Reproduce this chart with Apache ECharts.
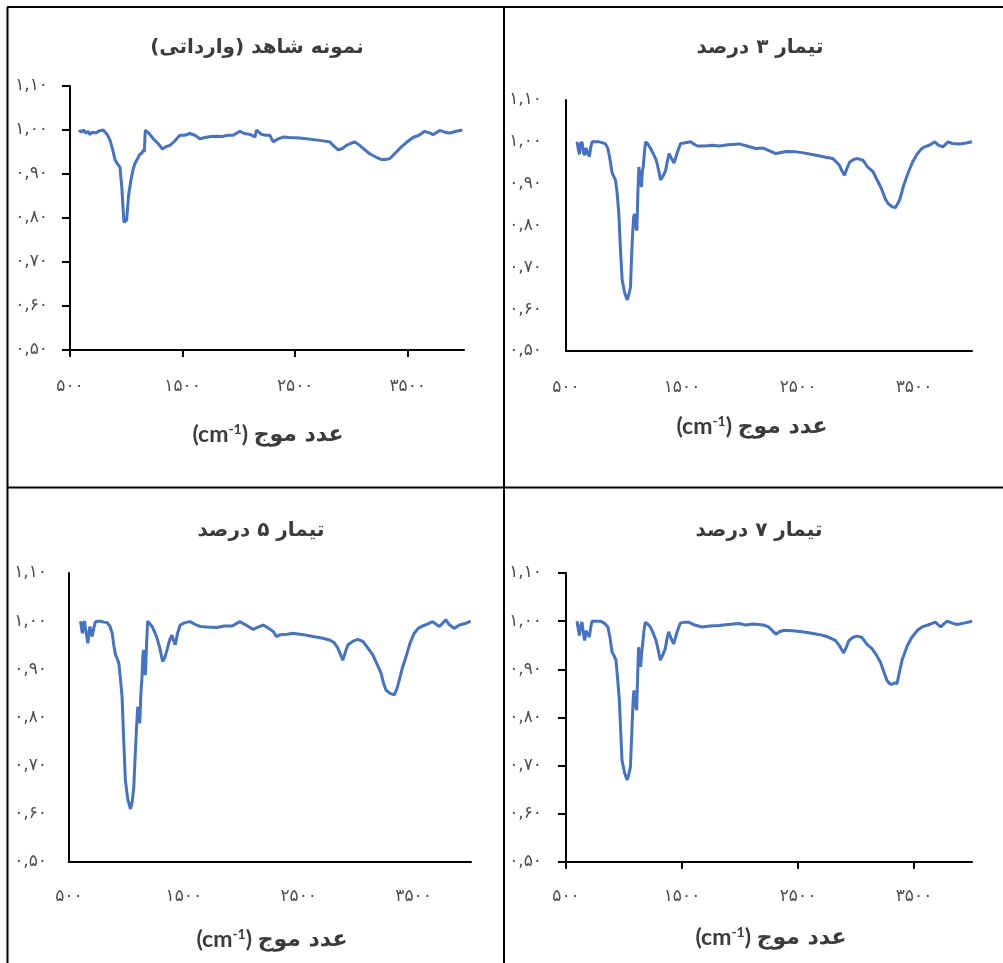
<!DOCTYPE html>
<html><head><meta charset="utf-8">
<script src="https://cdn.jsdelivr.net/npm/echarts@6/dist/echarts.min.js"></script>
<style>html,body{margin:0;padding:0;background:#fff}#c{width:1003px;height:963px}</style>
</head><body><div id="c"></div>
<script>
// ---- text ----
const panelTitles = ['نمونه شاهد (وارداتی)', 'تیمار ۳ درصد', 'تیمار ۵ درصد', 'تیمار ۷ درصد'];
const axisNameFa = 'عدد موج';
const axisUnit = 'cm';
const axisUnitSup = '-1';
// ---- ticks ----
const xTickValues = [500, 1500, 2500, 3500];
const xTickLabels = ['۵۰۰', '۱۵۰۰', '۲۵۰۰', '۳۵۰۰'];
const yTickValues = [0.5, 0.6, 0.7, 0.8, 0.9, 1.0, 1.1];
const yTickLabels = ['۰,۵۰', '۰,۶۰', '۰,۷۰', '۰,۸۰', '۰,۹۰', '۱,۰۰', '۱,۱۰'];
// ---- data: control ----
const wn1 = [580,600,620,640,660,677,700,730,760,796,830,855,880,900,925,944,960,979,1003,1020,1041,1060,1077,1100,1121,1140,1151,1160,1169,1200,1240,1280,1322,1350,1388,1430,1476,1520,1565,1610,1654,1700,1750,1802,1850,1900,1950,2009,2050,2100,2142,2157,2200,2240,2275,2305,2350,2393,2450,2541,2600,2700,2808,2850,2882,2920,2956,3000,3030,3074,3120,3163,3220,3266,3300,3340,3380,3429,3490,3547,3600,3651,3700,3725,3760,3784,3830,3873,3930,3985];
const tr1 = [1.000,0.995,1.000,0.993,0.997,0.990,0.995,0.993,0.998,1.000,0.990,0.977,0.955,0.932,0.922,0.915,0.870,0.790,0.795,0.850,0.886,0.910,0.924,0.935,0.945,0.948,0.955,0.950,1.000,0.993,0.980,0.970,0.957,0.962,0.965,0.975,0.988,0.988,0.992,0.988,0.980,0.983,0.985,0.986,0.985,0.988,0.988,0.997,0.992,0.990,0.984,1.000,0.990,0.988,0.988,0.973,0.980,0.984,0.983,0.982,0.980,0.977,0.973,0.962,0.955,0.958,0.965,0.970,0.973,0.965,0.955,0.946,0.938,0.933,0.933,0.935,0.945,0.958,0.972,0.983,0.988,0.997,0.993,0.989,0.995,0.999,0.995,0.993,0.997,1.000];
// ---- data: 3% ----
const wn2 = [595,605,615,625,638,650,661,672,682,692,702,712,725,750,782,810,840,860,875,898,926,940,955,970,984,1005,1027,1042,1056,1066,1076,1083,1090,1100,1111,1120,1128,1140,1151,1158,1166,1176,1186,1205,1229,1255,1278,1300,1316,1340,1359,1375,1388,1410,1431,1460,1488,1530,1575,1600,1633,1700,1760,1820,1900,1993,2060,2137,2200,2260,2310,2400,2483,2560,2656,2740,2800,2830,2857,2880,2901,2920,2944,2980,3016,3059,3100,3146,3180,3218,3250,3275,3310,3341,3376,3410,3448,3485,3520,3560,3592,3640,3679,3710,3750,3794,3830,3895,3950,4000];
const tr2 = [1.000,0.985,0.970,0.995,1.000,0.975,0.968,0.985,0.988,0.970,0.965,0.985,1.000,1.000,1.000,0.998,0.995,0.985,0.965,0.925,0.909,0.880,0.830,0.740,0.670,0.640,0.622,0.635,0.653,0.730,0.788,0.820,0.828,0.800,0.788,0.880,0.940,0.910,0.892,0.930,0.940,0.975,1.000,0.995,0.984,0.970,0.956,0.930,0.909,0.920,0.932,0.955,0.972,0.960,0.949,0.975,0.996,0.998,1.000,0.995,0.990,0.990,0.992,0.990,0.993,0.995,0.990,0.984,0.985,0.978,0.972,0.977,0.976,0.973,0.968,0.963,0.960,0.952,0.944,0.930,0.920,0.935,0.951,0.958,0.960,0.956,0.940,0.929,0.910,0.889,0.865,0.853,0.845,0.843,0.861,0.895,0.925,0.950,0.968,0.982,0.988,0.993,1.000,0.992,0.988,1.000,0.996,0.995,0.997,1.000];
// ---- data: 5% ----
const wn3 = [601,609,616,626,636,645,653,660,665,672,682,692,702,715,731,755,775,800,832,855,876,890,905,920,934,948,962,975,991,1012,1035,1050,1064,1076,1087,1098,1108,1116,1126,1136,1143,1150,1158,1165,1175,1185,1200,1223,1245,1266,1290,1315,1335,1353,1375,1396,1410,1425,1445,1468,1510,1555,1600,1642,1700,1786,1850,1920,1988,2040,2104,2150,2191,2240,2280,2306,2340,2400,2451,2540,2624,2700,2769,2810,2841,2865,2884,2905,2928,2970,3014,3058,3100,3145,3180,3217,3240,3260,3295,3332,3355,3376,3405,3434,3470,3506,3540,3578,3620,3665,3700,3723,3750,3780,3810,3853,3900,3950,3997];
const tr3 = [1.000,0.985,0.975,0.995,1.000,0.980,0.970,0.960,0.954,0.975,0.989,0.975,0.968,0.985,0.999,1.000,1.000,0.998,0.997,0.990,0.975,0.950,0.930,0.922,0.912,0.880,0.843,0.760,0.669,0.630,0.610,0.625,0.655,0.720,0.774,0.822,0.800,0.788,0.850,0.885,0.930,0.940,0.900,0.888,0.950,1.000,0.997,0.989,0.978,0.965,0.945,0.916,0.925,0.940,0.960,0.971,0.960,0.951,0.975,0.992,0.997,0.999,0.993,0.989,0.988,0.987,0.990,0.990,0.999,0.992,0.983,0.988,0.992,0.985,0.978,0.968,0.972,0.973,0.975,0.972,0.968,0.965,0.961,0.955,0.944,0.930,0.919,0.935,0.951,0.958,0.962,0.958,0.945,0.930,0.912,0.892,0.870,0.857,0.850,0.847,0.860,0.878,0.905,0.926,0.955,0.975,0.985,0.990,0.994,0.999,0.993,0.989,0.995,1.003,0.993,0.985,0.992,0.995,1.000];
// ---- data: 7% ----
const wn4 = [595,605,615,625,638,650,661,672,681,692,701,712,724,760,796,830,862,880,897,915,931,945,960,972,983,1005,1026,1040,1055,1066,1075,1081,1086,1097,1109,1118,1126,1135,1144,1152,1161,1172,1184,1205,1227,1252,1276,1295,1313,1335,1356,1372,1385,1405,1428,1458,1486,1520,1557,1610,1672,1740,1816,1900,1989,2050,2110,2161,2200,2247,2280,2310,2340,2376,2450,2534,2620,2707,2770,2822,2860,2894,2915,2937,2970,3009,3052,3095,3138,3175,3210,3240,3267,3290,3310,3335,3353,3375,3397,3440,3483,3525,3569,3620,3684,3710,3730,3760,3787,3830,3871,3930,4000];
const tr4 = [1.000,0.985,0.970,0.990,0.998,0.975,0.960,0.980,0.984,0.972,0.967,0.985,1.000,1.000,1.000,0.996,0.988,0.965,0.936,0.928,0.919,0.880,0.836,0.770,0.711,0.685,0.670,0.680,0.697,0.760,0.815,0.845,0.856,0.830,0.815,0.890,0.946,0.925,0.905,0.935,0.953,0.980,0.998,0.994,0.988,0.975,0.960,0.940,0.919,0.930,0.943,0.965,0.978,0.965,0.953,0.978,0.996,0.998,0.998,0.992,0.988,0.990,0.991,0.993,0.995,0.992,0.994,0.993,0.992,0.988,0.980,0.973,0.978,0.981,0.980,0.978,0.975,0.971,0.966,0.960,0.948,0.934,0.945,0.959,0.966,0.969,0.966,0.952,0.943,0.930,0.915,0.895,0.877,0.870,0.869,0.872,0.870,0.895,0.919,0.948,0.967,0.980,0.988,0.992,0.998,0.992,0.988,0.995,1.000,0.996,0.993,0.996,1.000];

const wns = [wn1, wn2, wn3, wn4];
const trs = [tr1, tr2, tr3, tr4];

// ---- layout (pixels) ----
const grids = [
  {left: 70, top: 86, width: 394, height: 264},
  {left: 566, top: 100, width: 406, height: 251},
  {left: 69, top: 573, width: 402, height: 289},
  {left: 566, top: 573, width: 406, height: 289}
];
const showTicks = [true, false, false, true];
const yLabelMargin = [22, 24, 22, 24];
const xLabelMargin = [28, 28, 26, 26];
const titlePos = [[257, 48], [760, 48], [261, 531], [759, 531]];
const namePos = [[268, 435], [752, 427], [272, 940], [771, 938]];

const LABEL_COLOR = '#4f4f4f';
const TITLE_COLOR = '#3b3b3b';
const LINE_COLOR = '#4472C4';
const FA_FONT = "'DejaVu Sans', sans-serif";

function xLabel(v) {
  const i = xTickValues.indexOf(Math.round(v));
  return i >= 0 ? xTickLabels[i] : '';
}
function yLabel(v) {
  for (let i = 0; i < yTickValues.length; i++) {
    if (Math.abs(yTickValues[i] - v) < 1e-6) return yTickLabels[i];
  }
  return '';
}

const option = {
  backgroundColor: '#ffffff',
  animation: false,
  grid: grids.map(g => Object.assign({containLabel: false}, g)),
  xAxis: grids.map((g, i) => ({
    type: 'value', gridIndex: i, min: 500, max: 4000,
    axisLine: {show: true, onZero: false, lineStyle: {color: '#000', width: 2}},
    axisTick: {show: showTicks[i], customValues: xTickValues, length: 7, lineStyle: {color: '#000', width: 2}},
    axisLabel: {customValues: xTickValues, formatter: xLabel, margin: xLabelMargin[i],
      color: LABEL_COLOR, fontSize: 17, fontFamily: FA_FONT},
    splitLine: {show: false}
  })),
  yAxis: grids.map((g, i) => ({
    type: 'value', gridIndex: i, min: 0.5, max: 1.1, interval: 0.1,
    axisLine: {show: true, lineStyle: {color: '#000', width: 2}},
    axisTick: {show: showTicks[i], length: 8, lineStyle: {color: '#000', width: 2}},
    axisLabel: {formatter: yLabel, margin: yLabelMargin[i], color: LABEL_COLOR, fontSize: 17, fontFamily: FA_FONT},
    splitLine: {show: false}
  })),
  series: grids.map((g, i) => ({
    type: 'line', xAxisIndex: i, yAxisIndex: i,
    data: wns[i].map((w, k) => [w, trs[i][k]]),
    showSymbol: false, smooth: false,
    lineStyle: {color: LINE_COLOR, width: 3},
    itemStyle: {color: LINE_COLOR}
  })),
  graphic: []
};

// panel frame lines
const frame = [
  [7.5, 7, 7.5, 963], [504, 7, 504, 963],
  [7, 7, 1003, 7], [7, 487.5, 1003, 487.5]
];
frame.forEach(l => option.graphic.push({
  type: 'line', shape: {x1: l[0], y1: l[1], x2: l[2], y2: l[3]},
  style: {stroke: '#000', lineWidth: 2}, silent: true
}));

panelTitles.forEach((t, i) => {
  option.graphic.push({
    type: 'text', x: titlePos[i][0], y: titlePos[i][1],
    style: {text: '\u202B' + t + '\u202C', textAlign: 'center', textVerticalAlign: 'middle',
      fill: TITLE_COLOR, font: "bold 20px " + FA_FONT}
  });
  option.graphic.push({
    type: 'text', x: namePos[i][0], y: namePos[i][1],
    style: {
      text: '{u|(' + axisUnit + '}{s|' + axisUnitSup + '}{u|) }{fa|' + axisNameFa + '}',
      textAlign: 'center', textVerticalAlign: 'middle',
      rich: {
        u: {fontFamily: "Lato, 'Open Sans', sans-serif", fontWeight: 'bold', fontSize: 23, fill: TITLE_COLOR, color: TITLE_COLOR, lineHeight: 26},
        s: {fontFamily: "Lato, 'Open Sans', sans-serif", fontWeight: 'bold', fontSize: 14, fill: TITLE_COLOR, color: TITLE_COLOR, lineHeight: 14, verticalAlign: 'top'},
        fa: {fontFamily: FA_FONT, fontWeight: 'bold', fontSize: 22, fill: TITLE_COLOR, color: TITLE_COLOR, lineHeight: 26}
      }
    }
  });
});

const chart = echarts.init(document.getElementById('c'));
chart.setOption(option);
</script>
</body></html>
